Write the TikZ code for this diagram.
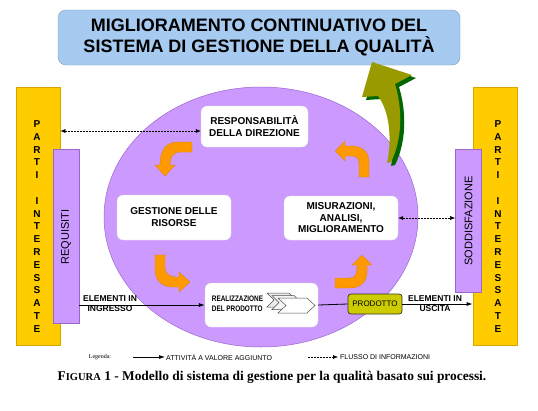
\documentclass[tikz,border=0pt]{standalone}
\usepackage{fontspec}
\setmainfont{Liberation Sans}
\newfontfamily\serifcap{Liberation Serif}
\usetikzlibrary{shapes.geometric,arrows.meta,calc}
\definecolor{titleblue}{HTML}{A6CAF0}
\definecolor{titleborder}{HTML}{7F9DBF}
\definecolor{gold}{HTML}{FFCC00}
\definecolor{goldborder}{HTML}{D9A400}
\definecolor{lilac}{HTML}{CC99FF}
\definecolor{lilacborder}{HTML}{9966CC}
\definecolor{orangearr}{HTML}{FF9900}
\definecolor{prodfill}{HTML}{CCCC00}
\definecolor{olivearr}{HTML}{999900}
\definecolor{darkgreenarr}{HTML}{006600}
\begin{document}
\begin{tikzpicture}[x=1pt,y=-1pt,
 whitebox/.style={fill=white, draw=gray!25, rounded corners=6pt, align=center, inner sep=0pt, font=\fontsize{10}{12}\selectfont\bfseries},
 goldbar/.style={fill=gold, draw=goldborder, line width=0.8pt, minimum width=44pt, minimum height=258pt, inner sep=0pt},
 lilacbar/.style={fill=lilac, draw=lilacborder, line width=0.6pt, inner sep=0pt, minimum width=26pt},
 letterstack/.style={align=center, inner sep=0pt, font=\fontsize{10}{12.8}\selectfont\bfseries},
 flow/.style={-{Latex[length=6pt,width=4pt]}, line width=0.8pt},
 info/.style={{Latex[length=5pt,width=4pt]}-{Latex[length=5pt,width=4pt]}, dash pattern=on 2pt off 1pt, line width=0.5pt},
 infoone/.style={-{Latex[length=5pt,width=4pt]}, dash pattern=on 2pt off 1pt, line width=0.5pt},
 orangeshape/.style={fill=orangearr, draw=orangearr!85!black, line width=0.3pt},
 elabel/.style={align=center, inner sep=0pt, font=\fontsize{8.5}{10}\selectfont\bfseries},
 chev/.style={fill=white, draw=black!70, line width=0.5pt},
]
\useasboundingbox (0,0) rectangle (538,410);
\fill[white] (0,0) rectangle (538,410);

% title
\node[fill=titleblue, draw=titleborder, rounded corners=8pt, minimum width=402pt, minimum height=55pt, inner sep=0pt, align=center, font=\fontsize{18}{21}\selectfont\bfseries] (title) at (259,37.5) {MIGLIORAMENTO CONTINUATIVO DEL\\SISTEMA DI GESTIONE DELLA QUALITÀ};

% side bars
\node[goldbar] (leftPI) at (38,216) {};
\node[goldbar] (rightPI) at (495,216) {};
\node[letterstack] (leftPIlbl) at (37,226.5) {P\\A\\R\\T\\I\\\mbox{}\\I\\N\\T\\E\\R\\E\\S\\S\\A\\T\\E};
\node[letterstack] (rightPIlbl) at (498,226.5) {P\\A\\R\\T\\I\\\mbox{}\\I\\N\\T\\E\\R\\E\\S\\S\\A\\T\\E};
\node[lilacbar, minimum height=174pt] (req) at (66,236) {};
\node[rotate=90, font=\fontsize{11}{13}\selectfont] (reqlbl) at (66,237) {REQUISITI};
\node[lilacbar, minimum height=143pt] (sod) at (468.5,220.5) {};
\node[rotate=90, font=\fontsize{11}{13}\selectfont] (sodlbl) at (468.5,221) {SODDISFAZIONE};

% ellipse
\node[ellipse, fill=lilac, draw=lilacborder, line width=0.5pt, minimum width=314pt, minimum height=260pt, inner sep=0pt] (ell) at (261,217) {};

% process boxes
\node[whitebox, minimum width=107pt, minimum height=41pt] (resp) at (254.5,126.5) {RESPONSABILITÀ\\DELLA DIREZIONE};
\node[whitebox, minimum width=114pt, minimum height=45pt] (gest) at (174,217.5) {GESTIONE DELLE\\RISORSE};
\node[whitebox, minimum width=114pt, minimum height=44pt, font=\fontsize{10}{11.5}\selectfont\bfseries] (mis) at (341,218) {MISURAZIONI,\\ANALISI,\\MIGLIORAMENTO};
\node[whitebox, minimum width=113pt, minimum height=44pt] (real) at (261.5,305) {};
\node[align=left, inner sep=0pt, font=\fontsize{8}{10}\selectfont\bfseries] (reallbl) at (237.5,303.5) {\scalebox{0.8}[1]{REALIZZAZIONE}\\\scalebox{0.8}[1]{DEL PRODOTTO}};
% chevrons
\draw[chev, fill=gray!15] (267,293) -- (289,293) -- (296,300) -- (289,307) -- (267,307) -- (274,300) -- cycle;
\draw[chev, fill=gray!8] (272,295.5) -- (294,295.5) -- (301,302.5) -- (294,309.5) -- (272,309.5) -- (279,302.5) -- cycle;
\draw[chev] (278,298) -- (307,298) -- (315,305.5) -- (307,313) -- (278,313) -- (286,305.5) -- cycle;

\node[fill=prodfill, draw=black!80, line width=0.7pt, rounded corners=3pt, minimum width=54pt, minimum height=20pt, inner sep=0pt, font=\fontsize{8}{10}\selectfont] (prod) at (375,304) {PRODOTTO};

% connectors
\draw[flow] (req.east |- real.west) -- (real.west);
\draw[line width=0.8pt] (real.east) -- (prod.west);
\draw[flow] (prod.east) -- (prod.east -| rightPI.west);
\draw[info] ($(leftPI.east |- resp.west)+(0,4.5)$) -- ($(resp.west)+(0,4.5)$);
\draw[info] (mis.east) -- (mis.east -| sod.west);
\node[elabel] (inlbl) at (110,304) {ELEMENTI IN\\INGRESSO};
\node[elabel] (outlbl) at (435,304) {ELEMENTI IN\\USCITA};

% orange cycle arrows
\draw[orangeshape] (192,142) -- (178,142) .. controls (166,142) and (160,150) .. (160,165) -- (155,165) -- (165,176) -- (175,165) -- (170,165) .. controls (170,156) and (174,152) .. (180,152) -- (192,152) -- cycle;
\draw[orangeshape] (155,255) -- (165,255) -- (165,268) .. controls (165,274) and (170,277) .. (176,277) -- (179,277) -- (179,272) -- (190,282) -- (179,292) -- (179,287) -- (172,287) .. controls (162,287) and (155,280) .. (155,270) -- cycle;
\draw[orangeshape] (335,278) -- (350,278) .. controls (355,278) and (357,274) .. (357,268) -- (357,265) -- (352,265) -- (362,255) -- (372,265) -- (367,265) -- (367,272) .. controls (367,282) and (360,288) .. (350,288) -- (335,288) -- cycle;
\draw[orangeshape] (359,177) -- (369,177) -- (369,162) .. controls (369,152) and (362,146) .. (352,146) -- (345,146) -- (345,141) -- (335,151) -- (345,161) -- (345,156) -- (352,156) .. controls (356,156) and (359,158) .. (359,163) -- cycle;

% big improvement arrow
\fill[darkgreenarr, shift={(4,3)}] (372,62) -- (412,75) -- (395,84) .. controls (403,110) and (402,140) .. (391,162) -- (387,163) .. controls (392,140) and (390,112) .. (378,96) -- (362,97) -- cycle;
\fill[olivearr] (372,62) -- (412,75) -- (395,84) .. controls (403,110) and (402,140) .. (391,162) -- (387,163) .. controls (392,140) and (390,112) .. (378,96) -- (362,97) -- cycle;

% legend
\node[font=\serifcap\fontsize{6}{7}\selectfont, inner sep=0pt] (leg) at (100,357) {Legenda:};
\coordinate (l1a) at (133,357);
\node[anchor=west, inner sep=0pt, font=\fontsize{7}{8}\selectfont] (leg1) at (166,357) {ATTIVITÀ A VALORE AGGIUNTO};
\draw[flow, line width=0.7pt] (l1a) -- ([xshift=-1pt]leg1.west);
\coordinate (l2a) at (308,357);
\node[anchor=west, inner sep=0pt, font=\fontsize{7}{8}\selectfont] (leg2) at (340,357) {FLUSSO DI INFORMAZIONI};
\draw[infoone] (l2a) -- ([xshift=-2pt]leg2.west);

% caption
\node[inner sep=0pt, font=\serifcap\bfseries\fontsize{13.4}{15}\selectfont] (cap) at (272,377) {F{\fontsize{10.5}{12}\selectfont IGURA} 1 - Modello di sistema di gestione per la qualità basato sui processi.};
\end{tikzpicture}
\end{document}
